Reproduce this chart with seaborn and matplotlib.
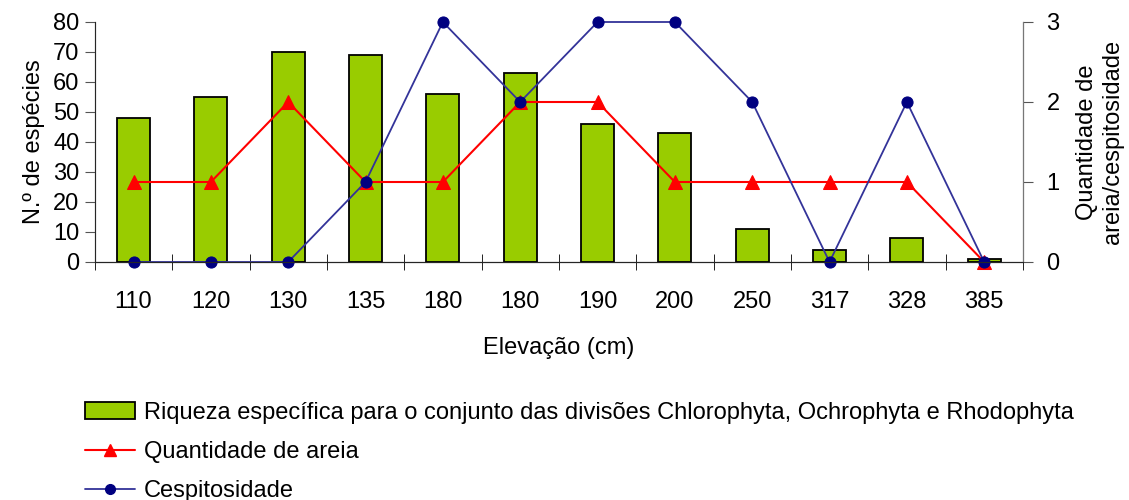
import numpy as np
import pandas as pd
import seaborn as sns
import matplotlib.pyplot as plt
from matplotlib.lines import Line2D
from matplotlib.patches import Patch

# data
elevacao = ["110", "120", "130", "135", "180", "180", "190", "200", "250", "317", "328", "385"]
riqueza = [48, 55, 70, 69, 56, 63, 46, 43, 11, 4, 8, 1]
areia = [1, 1, 2, 1, 1, 2, 2, 1, 1, 1, 1, 0]
cespitosidade = [0, 0, 0, 1, 3, 2, 3, 3, 2, 0, 2, 0]

sns.set_style("white")
plt.rcParams["font.family"] = ["Liberation Sans", "DejaVu Sans"]
plt.rcParams["font.size"] = 17
plt.rcParams["text.color"] = "black"
plt.rcParams["axes.labelcolor"] = "black"
plt.rcParams["xtick.color"] = "black"
plt.rcParams["ytick.color"] = "black"

pos = np.arange(len(elevacao))
df = pd.DataFrame({"pos": pos, "riqueza": riqueza, "areia": areia, "cesp": cespitosidade})

fig = plt.figure(figsize=(11.29, 5.0), dpi=100)
ax = fig.add_axes([0.084, 0.476, 0.822, 0.48])

sns.barplot(data=df, x="pos", y="riqueza", ax=ax, color="#99CC00", saturation=1,
            width=0.43, edgecolor="black", linewidth=1.3)
ax.set_ylim(0, 80)
ax.set_xlim(-0.5, len(elevacao) - 0.5)
ax.set_yticks(range(0, 81, 10))
ax.set_xticks(pos)
ax.set_xticklabels(elevacao)
ax.set_xticks(np.arange(-0.5, len(elevacao), 1), minor=True)
ax.tick_params(axis="x", which="major", length=0, pad=21, bottom=True)
ax.tick_params(axis="x", which="minor", length=12, direction="inout", bottom=True, color="black")
ax.tick_params(axis="y", length=7, direction="out", left=True, color="#555555", pad=4)
ax.set_ylabel("N.º de espécies", labelpad=6)
ax.set_xlabel("Elevação (cm)", labelpad=17)
ax.spines["top"].set_visible(False)
ax.spines["left"].set_color("#777777")
ax.spines["bottom"].set_color("black")

ax2 = ax.twinx()
sns.lineplot(data=df, x="pos", y="areia", ax=ax2, color="#FF0000", linewidth=1.5,
             marker="^", markersize=10, markeredgecolor="#FF0000", clip_on=False)
sns.lineplot(data=df, x="pos", y="cesp", ax=ax2, color="#333399", linewidth=1.3,
             marker="o", markersize=8, markerfacecolor="#000080",
             markeredgecolor="#000080", clip_on=False)
ax2.set_ylim(0, 3)
ax2.set_yticks([0, 1, 2, 3])
ax2.tick_params(axis="y", length=7, direction="out", right=True, color="#555555", pad=10)
ax2.set_ylabel("Quantidade de\nareia/cespitosidade", labelpad=12)
ax2.spines["top"].set_visible(False)
ax2.spines["right"].set_color("#777777")
ax2.set_xlim(-0.5, len(elevacao) - 0.5)

handles = [
    Patch(facecolor="#99CC00", edgecolor="black", linewidth=1.3),
    Line2D([], [], color="#FF0000", marker="^", markersize=9, linewidth=1.5),
    Line2D([], [], color="#333399", marker="o", markersize=7,
           markerfacecolor="#000080", markeredgecolor="#000080", linewidth=1.3),
]
labels = [
    "Riqueza específica para o conjunto das divisões Chlorophyta, Ochrophyta e Rhodophyta",
    "Quantidade de areia",
    "Cespitosidade",
]
fig.legend(handles, labels, loc="upper left", bbox_to_anchor=(0.067, 0.215),
           frameon=False, handlelength=2.1, handletextpad=0.4, labelspacing=0.72,
           borderaxespad=0)

fig.savefig("out.png", dpi=100)
